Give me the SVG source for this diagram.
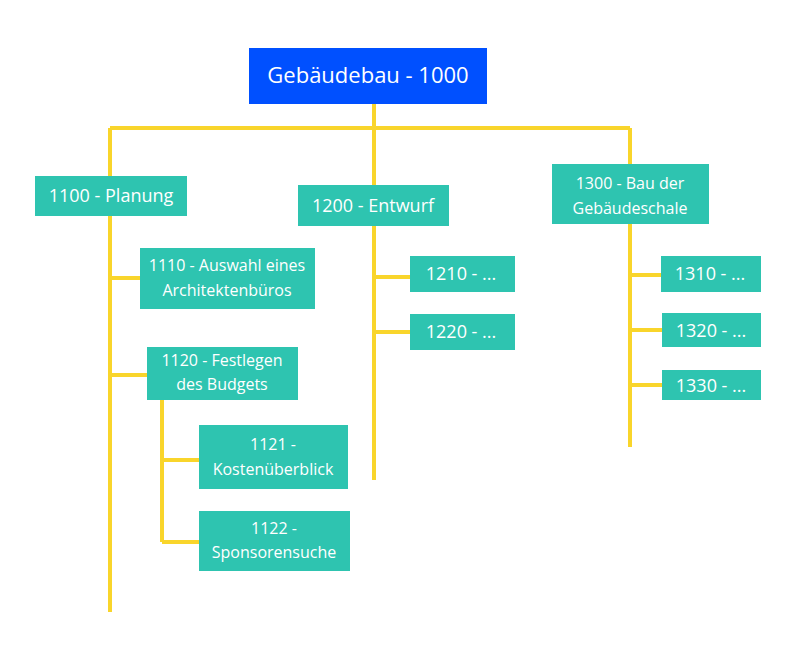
<svg xmlns="http://www.w3.org/2000/svg" width="804" height="655" viewBox="0 0 804 655">
<style>
.c{stroke:#F9D52B;stroke-width:4;fill:none}
.b{fill:#2EC4B0}
text{font-family:"Open Sans","Noto Sans",sans-serif;fill:#fff;text-anchor:middle}
.l{font-size:18px}.s{font-size:16px}
</style>
<rect width="804" height="655" fill="#fff"/>
<g id="connectors">
<path class="c" d="M374 104V128M110 128H630M110 128V612M374 128V185M630 128V165"/>
<path class="c" d="M110 278H140M110 375H147M162 400V542M162 460H199M162 542H199"/>
<path class="c" d="M374 226V480M374 277H410M374 332H410"/>
<path class="c" d="M630 224V447M630 275H661M630 330H662M630 385H662"/>
</g>
<g id="n1000"><rect x="249" y="48" width="238" height="56" fill="#0050FF"/><text x="368" y="83" style="font-size:22px">Gebäudebau - 1000</text></g>
<g id="n1100"><rect class="b" x="35" y="176" width="152" height="40"/><text class="l" x="111" y="202">1100 - Planung</text></g>
<g id="n1110"><rect class="b" x="140" y="248" width="175" height="61"/><text class="s" x="227" y="271">1110 - Auswahl eines</text><text class="s" x="227" y="296">Architektenbüros</text></g>
<g id="n1120"><rect class="b" x="147" y="347" width="151" height="53"/><text class="s" x="222" y="366">1120 - Festlegen</text><text class="s" x="222" y="390">des Budgets</text></g>
<g id="n1121"><rect class="b" x="199" y="425" width="149" height="64"/><text class="s" x="273" y="450">1121 -</text><text class="s" x="273" y="475">Kostenüberblick</text></g>
<g id="n1122"><rect class="b" x="199" y="511" width="151" height="60"/><text class="s" x="274" y="534">1122 -</text><text class="s" x="274" y="558">Sponsorensuche</text></g>
<g id="n1200"><rect class="b" x="298" y="185" width="151" height="41"/><text class="l" x="373" y="212">1200 - Entwurf</text></g>
<g id="n1210"><rect class="b" x="410" y="256" width="105" height="36"/><text class="l" x="461" y="280">1210 - ...</text></g>
<g id="n1220"><rect class="b" x="410" y="314" width="105" height="36"/><text class="l" x="461" y="338">1220 - ...</text></g>
<g id="n1300"><rect class="b" x="552" y="164" width="157" height="60"/><text class="s" x="630" y="189">1300 - Bau der</text><text class="s" x="630" y="214">Gebäudeschale</text></g>
<g id="n1310"><rect class="b" x="661" y="256" width="100" height="36"/><text class="l" x="710" y="280">1310 - ...</text></g>
<g id="n1320"><rect class="b" x="662" y="313" width="99" height="34"/><text class="l" x="711" y="337">1320 - ...</text></g>
<g id="n1330"><rect class="b" x="662" y="370" width="99" height="30"/><text class="l" x="711" y="392">1330 - ...</text></g>
</svg>
